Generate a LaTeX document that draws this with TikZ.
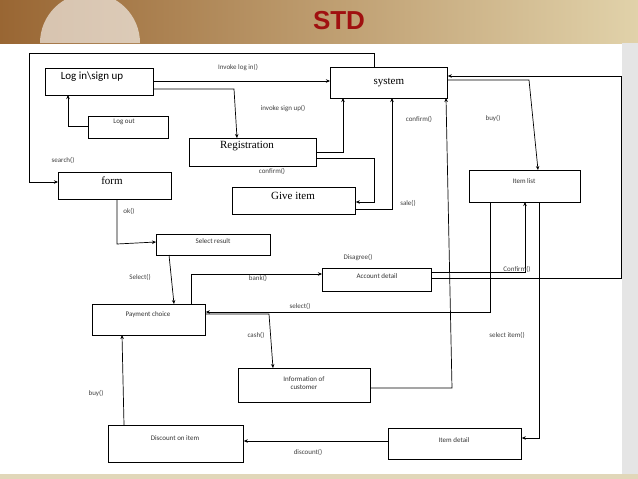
\documentclass[tikz,border=0pt]{standalone}
\usepackage{fontspec}
\setmainfont{Liberation Serif}
\newfontfamily\calfont{Carlito}
\newfontfamily\hvfont{Liberation Sans}
\usetikzlibrary{arrows.meta}
\definecolor{darkred}{HTML}{A01010}
\definecolor{beigeA}{RGB}{225,210,170}
\definecolor{beigeB}{RGB}{225,215,185}
\begin{document}
\begin{tikzpicture}[x=1pt,y=-1pt,
  box/.style={draw,thick,inner sep=0pt,anchor=north west},
  lbl/.style={font=\calfont\fontsize{7}{8}\selectfont,text=black!75},
  bl/.style={font=\calfont\fontsize{7}{8}\selectfont,text=black!80,align=center},
  ln/.style={draw,line width=0.7pt},
  ar/.style={ln,-{Stealth[length=4pt,width=3.5pt]}}]
\useasboundingbox (0,0) rectangle (638,479);
\shade[left color=brown!80!black, right color=beigeA] (0,0) rectangle (638,43);
\fill[white,opacity=0.6] (40,43) arc[start angle=180,end angle=0,radius=50pt] -- cycle;
\fill[beigeB] (0,474) rectangle (638,479);
\fill[black!10] (622,43) rectangle (638,474);
\node[font=\hvfont\bfseries\fontsize{26}{28}\selectfont,text=darkred] (title) at (339,21) {STD};
% boxes
\node[box,minimum width=108pt,minimum height=27pt] (login) at (45,68) {};
\node[font=\calfont\fontsize{11}{12}\selectfont] (logintxt) at (92,77) {Log in\textbackslash sign up};
\node[box,minimum width=117pt,minimum height=31pt,font=\fontsize{11}{12}\selectfont] (sys) at (330,67) {system};
\node[box,minimum width=80pt,minimum height=22pt] (logout) at (88,116) {};
\node[bl] (logouttxt) at (124,122) {Log out};
\node[box,minimum width=127pt,minimum height=28pt] (reg) at (189,138) {};
\node[font=\fontsize{11}{12}\selectfont] (regtxt) at (247,146) {Registration};
\node[box,minimum width=113pt,minimum height=27pt] (form) at (58,172) {};
\node[font=\fontsize{11}{12}\selectfont] (formtxt) at (112,181) {form};
\node[box,minimum width=123pt,minimum height=27pt] (give) at (232,187) {};
\node[font=\fontsize{11}{12}\selectfont] (givetxt) at (293,196) {Give item};
\node[box,minimum width=111pt,minimum height=32pt] (ilist) at (469,170) {};
\node[bl] (ilisttxt) at (524,181) {Item list};
\node[box,minimum width=114pt,minimum height=21pt] (sres) at (156,234) {};
\node[bl] (srestxt) at (213,241) {Select result};
\node[box,minimum width=109pt,minimum height=23pt] (acc) at (322,268) {};
\node[bl] (acctxt) at (377,276) {Account detail};
\node[box,minimum width=113pt,minimum height=31pt] (pay) at (92,304) {};
\node[bl] (paytxt) at (148,315) {Payment choice};
\node[box,minimum width=132pt,minimum height=34pt] (info) at (238,368) {};
\node[bl] (infotxt) at (304,383) {Information of\\customer};
\node[box,minimum width=135pt,minimum height=37pt] (disc) at (108,425) {};
\node[bl] (disctxt) at (175,438) {Discount on item};
\node[box,minimum width=133pt,minimum height=31pt] (idet) at (388,428) {};
\node[bl] (idettxt) at (454,440) {Item detail};
% connectors
\coordinate (c1) at (374,53);\coordinate (c2) at (29,53);\coordinate (c3) at (29,182);
\draw[ar] (sys.north west -| c1) -- (c1) -- (c2) -- (c3) -- (c3 -| form.west);
\draw[ar] (login.east |- 0,81) -- (sys.west |- 0,81);
\draw[ar] (login.east |- 0,89) -- (234,89) -- (237,138);
\draw[ar] (logout.west |- 0,126) -- (68,126) -- (68,95);
\draw[ar] (reg.east |- 0,152) -- (343,152) -- (343,98);
\draw[ar] (reg.east |- 0,158) -- (374,158) -- (374,202) -- (give.east |- 0,202);
\draw[ar] (give.east |- 0,209) -- (392,209) -- (392,98);
\draw[ar] (sys.east |- 0,80) -- (529,80) -- (538,170);
\draw[ar] (acc.east |- 0,278) -- (621,278) -- (621,76) -- (sys.east |- 0,76);
\draw[ar] (acc.east |- 0,272) -- (525,272) -- (525,202);
\draw[ar] (490,202) -- (490,312) -- (pay.east |- 0,312);
\draw[ar] (539,202) -- (539,438) -- (idet.east |- 0,438);
\draw[ar] (info.east |- 0,388) -- (452,388) -- (446,98);
\draw[ar] (117,199) -- (117,244) -- (sres.west |- 0,242);
\draw[ar] (169,255) -- (174,304);
\draw[ar] (191,304) -- (191,274) -- (acc.west |- 0,274);
\draw[ar] (pay.east |- 0,314) -- (269,314) -- (273,368);
\draw[ar] (idet.west |- 0,441) -- (disc.east |- 0,441);
\draw[ar] (124,425) -- (122,335);
% labels
\node[lbl] at (238,68) {Invoke log in()};
\node[lbl] at (283,109) {invoke sign up()};
\node[lbl] at (272,171) {confirm()};
\node[lbl] at (419,119) {confirm()};
\node[lbl] at (408,203) {sale()};
\node[lbl] at (493,119) {buy()};
\node[lbl] at (63,160) {search()};
\node[lbl] at (129,211) {ok()};
\node[lbl] at (140,277) {Select()};
\node[lbl] at (258,278) {bank()};
\node[lbl] at (358,258) {Disagree()};
\node[lbl] at (517,269) {Confirm()};
\node[lbl] at (300,306) {select()};
\node[lbl] at (256,335) {cash()};
\node[lbl] at (507,335) {select item()};
\node[lbl] at (96,394) {buy()};
\node[lbl] at (308,452) {discount()};
\end{tikzpicture}
\end{document}
